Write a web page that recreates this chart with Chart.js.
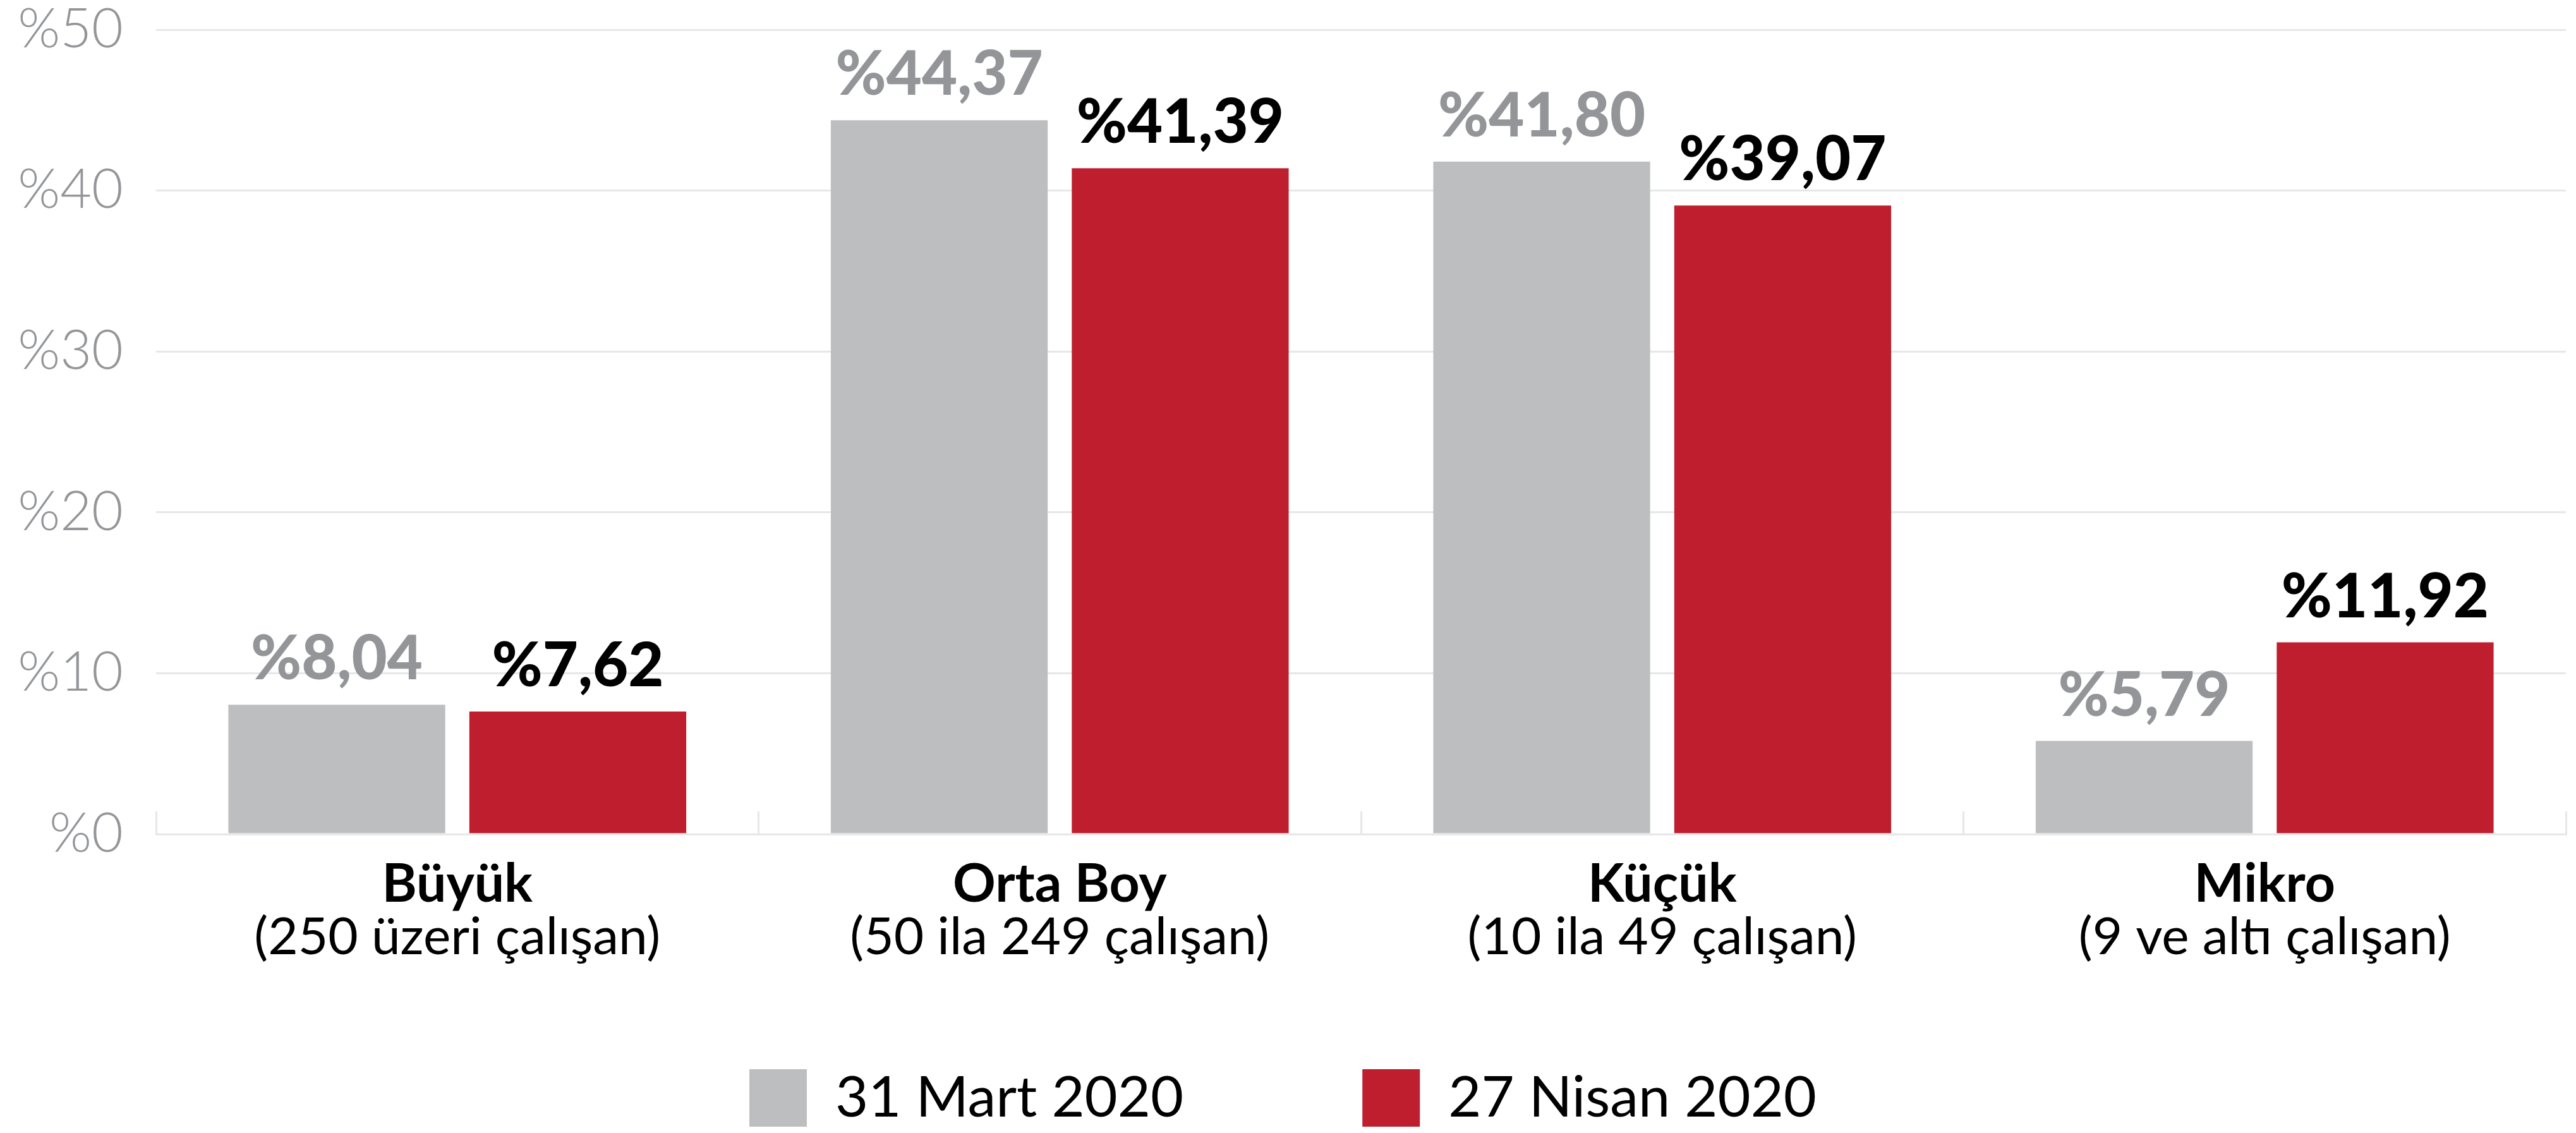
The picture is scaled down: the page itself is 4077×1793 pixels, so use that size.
<!DOCTYPE html>
<html>
<head>
<meta charset="utf-8">
<script src="https://cdn.jsdelivr.net/npm/chart.js@4/dist/chart.umd.min.js"></script>
<style>
  html, body { margin: 0; padding: 0; background: #fff; }
  canvas { display: block; }
</style>
</head>
<body>
<canvas id="chart" width="4077" height="1793"></canvas>
<script>
// veriler
const categories = ['Büyük', 'Orta Boy', 'Küçük', 'Mikro'];
const subLabels = ['(250 üzeri çalışan)', '(50 ila 249 çalışan)', '(10 ila 49 çalışan)', '(9 ve altı çalışan)'];
const seriesNames = ['31 Mart 2020', '27 Nisan 2020'];
const mart = [8.04, 44.37, 41.80, 5.79];
const nisan = [7.62, 41.39, 39.07, 11.92];
const yTicks = [0, 10, 20, 30, 40, 50];

const FONT = "Lato, 'Open Sans', sans-serif";
const GREY = '#bcbec0';
const RED = '#be1e2d';
const TEXT_GREY = '#939598';
const GRID = '#e6e7e8';

const fmt = v => '%' + v.toFixed(2).replace('.', ',');

// bar üstü değer etiketleri
const valueLabels = {
  id: 'valueLabels',
  afterDatasetsDraw(chart) {
    const ctx = chart.ctx;
    ctx.save();
    ctx.font = '900 97px ' + FONT;
    ctx.textAlign = 'center';
    ctx.textBaseline = 'alphabetic';
    chart.data.datasets.forEach((ds, di) => {
      ctx.fillStyle = di === 0 ? TEXT_GREY : '#000';
      chart.getDatasetMeta(di).data.forEach((bar, i) => {
        ctx.fillText(fmt(ds.data[i]), bar.x, bar.y - 40);
      });
    });
    ctx.restore();
  }
};

// iki satırlı kategori etiketleri (ilk satır kalın)
const categoryLabels = {
  id: 'categoryLabels',
  afterDraw(chart) {
    const ctx = chart.ctx;
    const x = chart.scales.x;
    const base = chart.chartArea.bottom;
    ctx.save();
    ctx.textAlign = 'center';
    ctx.textBaseline = 'alphabetic';
    ctx.fillStyle = '#000';
    categories.forEach((c, i) => {
      const px = x.getPixelForValue(i);
      ctx.font = 'bold 84px ' + FONT;
      ctx.fillText(c, px, base + 107);
      ctx.font = '82px ' + FONT;
      ctx.fillText(subLabels[i], px, base + 190);
    });
    ctx.restore();
  }
};

new Chart(document.getElementById('chart'), {
  type: 'bar',
  data: {
    labels: categories,
    datasets: [
      { label: seriesNames[0], data: mart, backgroundColor: GREY, borderWidth: 0 },
      { label: seriesNames[1], data: nisan, backgroundColor: RED, borderWidth: 0 }
    ]
  },
  options: {
    responsive: false,
    animation: false,
    devicePixelRatio: 1,
    categoryPercentage: 0.8,
    barPercentage: 0.9,
    layout: { padding: { left: 0, right: 16, top: 47, bottom: 0 } },
    plugins: {
      tooltip: { enabled: false },
      legend: {
        position: 'bottom',
        labels: {
          color: '#000',
          font: { family: FONT, size: 90 },
          boxWidth: 91,
          boxHeight: 91,
          padding: 283
        }
      }
    },
    scales: {
      x: {
        grid: {
          offset: true,
          drawOnChartArea: false,
          drawTicks: true,
          tickLength: -36,
          color: GRID,
          lineWidth: 3
        },
        border: { display: true, color: GRID, width: 3 },
        ticks: { display: false },
        afterFit(scale) { scale.height = 89; }
      },
      y: {
        min: 0,
        max: 50,
        afterBuildTicks(scale) { scale.ticks = yTicks.map(v => ({ value: v })); },
        grid: { color: GRID, lineWidth: 3, drawTicks: false },
        border: { display: false },
        ticks: {
          padding: 52,
          color: TEXT_GREY,
          font: { family: FONT, size: 86, weight: 300 },
          callback: v => '%' + v
        },
        afterFit(scale) {
          scale.width = 247;
          scale.paddingTop = 0;
          scale.paddingBottom = 0;
        }
      }
    }
  },
  plugins: [valueLabels, categoryLabels]
});
</script>
</body>
</html>
